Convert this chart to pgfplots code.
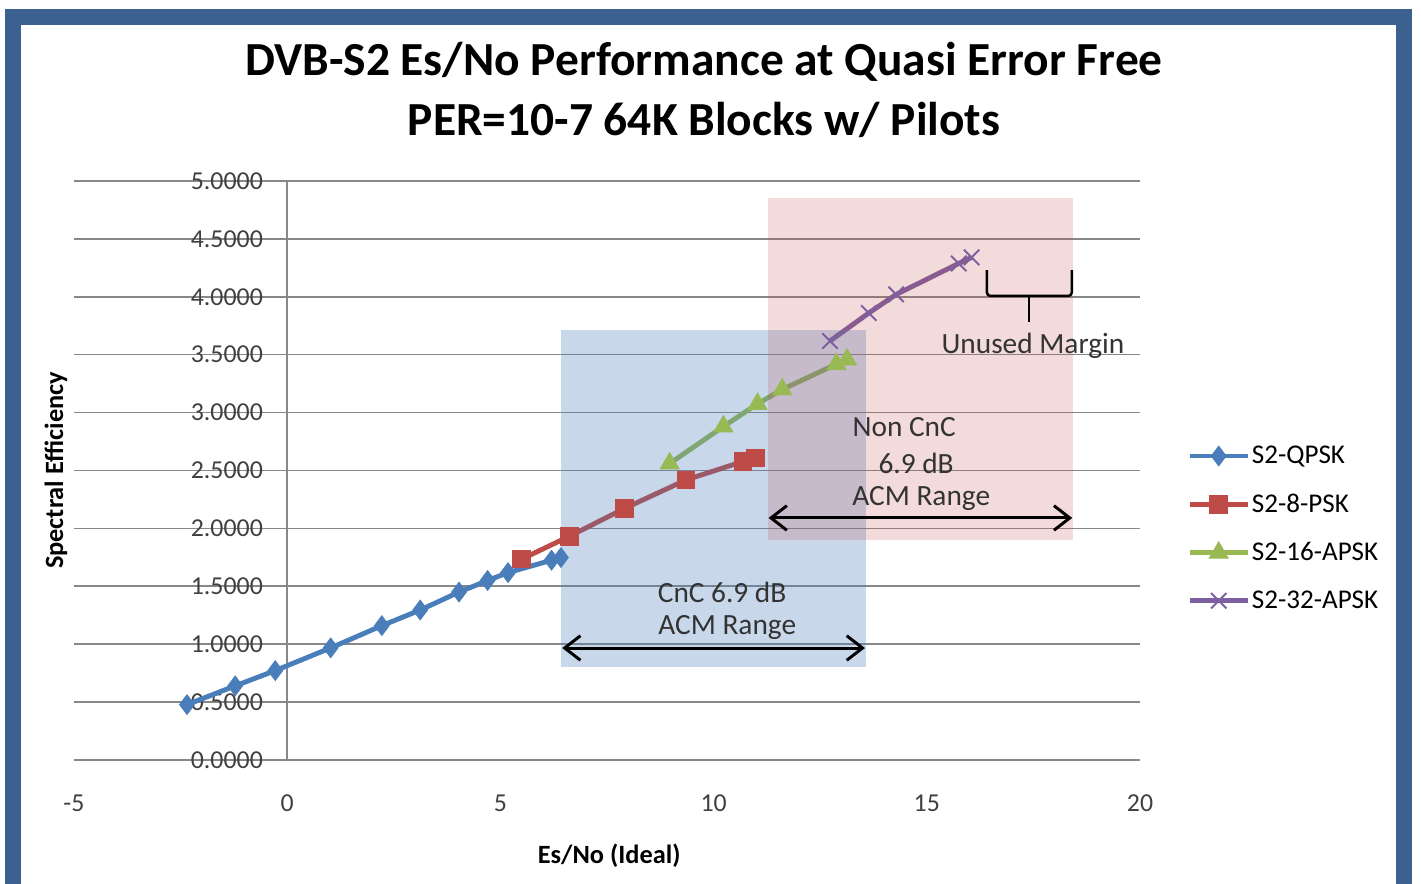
\documentclass[border=0pt]{standalone}
\usepackage{pgfplots}
\pgfplotsset{compat=1.18}
\usepackage{fontspec}
\setmainfont{Carlito}
\usetikzlibrary{arrows.meta}
\definecolor{frameblue}{HTML}{3C6191}
\definecolor{cqpsk}{HTML}{4A7EBB}
\definecolor{c8psk}{HTML}{BE4B48}
\definecolor{c16}{HTML}{98B954}
\definecolor{c32}{HTML}{7D60A0}
\definecolor{gridgray}{HTML}{888888}
\definecolor{ticktext}{HTML}{404040}
\definecolor{anntext}{HTML}{333333}
\pgfplotstableread{
x y
-2.35 0.478
-1.22 0.640
-0.28 0.772
1.02 0.968
2.22 1.160
3.12 1.295
4.03 1.450
4.70 1.550
5.18 1.618
6.20 1.725
6.42 1.748
}\qpsk
\pgfplotstableread{
x y
5.50 1.735
6.62 1.932
7.91 2.172
9.35 2.418
10.69 2.578
10.98 2.610
}\epsk
\pgfplotstableread{
x y
8.97 2.560
10.23 2.880
11.03 3.075
11.61 3.200
12.88 3.418
13.13 3.458
}\apsksixteen
\pgfplotstableread{
x y
12.73 3.618
13.64 3.860
14.28 4.020
15.75 4.288
16.05 4.340
}\apskthirtytwo
\begin{document}
\begin{tikzpicture}
\useasboundingbox (0,0) rectangle (28.42,17.68);
\draw[line width=0.32cm, frameblue] (0.26,-0.2) rectangle (28.08,17.34);
\node[font=\fontsize{27}{32}\selectfont\bfseries] at (14.08,16.44) {DVB-S2 Es/No Performance at Quasi Error Free};
\node[font=\fontsize{27}{32}\selectfont\bfseries] at (14.08,15.28) {PER=10-7 64K Blocks w/ Pilots};
\begin{axis}[
  at={(1.48cm,2.48cm)}, anchor=south west,
  scale only axis, width=21.32cm, height=11.58cm,
  xmin=-5, xmax=20, ymin=0, ymax=5,
  axis x line=bottom, axis y line=middle,
  hide obscured x ticks=false, hide obscured y ticks=false,
  axis line style={-, draw=gridgray, line width=0.9pt},
  xtick={-5,0,5,10,15,20},
  ytick={0,0.5,1,1.5,2,2.5,3,3.5,4,4.5,5},
  tick style={draw=none},
  major tick length=0pt,
  ymajorgrids,
  grid style={draw=gridgray, line width=0.9pt},
  /pgf/number format/assume math mode=true,
  yticklabel={\pgfmathprintnumber[fixed,fixed zerofill,precision=4]{\tick}},
  xticklabel={\pgfmathprintnumber[fixed]{\tick}},
  yticklabel style={anchor=east, inner sep=0pt, xshift=-0.48cm, font=\fontsize{14.7}{16}\selectfont, text=ticktext},
  xticklabel style={anchor=center, inner sep=0pt, yshift=-0.86cm, font=\fontsize{14.7}{16}\selectfont, text=ticktext},
  xlabel={Es/No (Ideal)}, ylabel={Spectral Efficiency},
  every axis x label/.style={at={(axis description cs:0.502,-0.166)}, anchor=center, font=\fontsize{15}{18}\selectfont\bfseries},
  every axis y label/.style={at={(axis description cs:-0.017,0.5)}, anchor=center, rotate=90, font=\fontsize{15}{18}\selectfont\bfseries},
  legend style={at={(axis description cs:1.044,0.40)}, anchor=west, draw=none, fill=none,
    font=\fontsize{15.4}{18}\selectfont, row sep=0.48cm, inner sep=0pt,
    nodes={inner sep=1pt, anchor=west}},
  legend cell align=left,
  legend image code/.code={\draw[mark repeat=2,mark phase=2,#1] plot coordinates {(0cm,0cm) (0.58cm,0cm) (1.16cm,0cm)};},
]
\addplot[cqpsk, line width=2.8pt, mark=diamond*, mark size=5.6pt, mark options={solid, fill=cqpsk, line width=0.5pt}] table {\qpsk};
\addlegendentry{S2-QPSK}
\addplot[c8psk, line width=2.8pt, mark=square*, mark size=5pt, mark options={solid, fill=c8psk, line width=0.5pt}] table {\epsk};
\addlegendentry{S2-8-PSK}
\addplot[c16, line width=2.8pt, mark=triangle*, mark size=6.2pt, mark options={solid, fill=c16, line width=0.5pt}] table {\apsksixteen};
\addlegendentry{S2-16-APSK}
\addplot[c32, line width=2.8pt, mark=x, mark size=6.2pt, mark options={solid, line width=1.1pt}] table {\apskthirtytwo};
\addlegendentry{S2-32-APSK}
\fill[fill=cqpsk, fill opacity=0.3] (axis cs:6.43,0.80) rectangle (axis cs:13.57,3.71);
\fill[fill=c8psk, fill opacity=0.2] (axis cs:11.27,1.90) rectangle (axis cs:18.43,4.85);
\draw[black, line width=1.7pt, {Straight Barb[length=9pt,width=14pt]}-{Straight Barb[length=9pt,width=14pt]}] (axis cs:6.45,0.967) -- (axis cs:13.55,0.967);
\draw[black, line width=1.7pt, {Straight Barb[length=9pt,width=14pt]}-{Straight Barb[length=9pt,width=14pt]}] (axis cs:11.29,2.09) -- (axis cs:18.41,2.09);
\draw[black, line width=1.4pt, rounded corners=2pt] (axis cs:16.41,4.23) -- (axis cs:16.41,4.007) -- (axis cs:18.40,4.007) -- (axis cs:18.40,4.23);
\draw[black, line width=1.4pt] (axis cs:17.40,4.007) -- (axis cs:17.40,3.78);
\node[text=anntext, font=\fontsize{16.7}{20}\selectfont] at (axis cs:10.20,1.45) {CnC 6.9 dB};
\node[text=anntext, font=\fontsize{16.7}{20}\selectfont] at (axis cs:10.32,1.14) {ACM Range};
\node[text=anntext, font=\fontsize{16.7}{20}\selectfont] at (axis cs:14.47,2.876) {Non CnC};
\node[text=anntext, font=\fontsize{16.7}{20}\selectfont] at (axis cs:14.75,2.565) {6.9 dB};
\node[text=anntext, font=\fontsize{16.7}{20}\selectfont] at (axis cs:14.87,2.26) {ACM Range};
\node[text=anntext, font=\fontsize{16.7}{20}\selectfont] at (axis cs:17.49,3.58) {Unused Margin};
\end{axis}
\end{tikzpicture}
\end{document}
